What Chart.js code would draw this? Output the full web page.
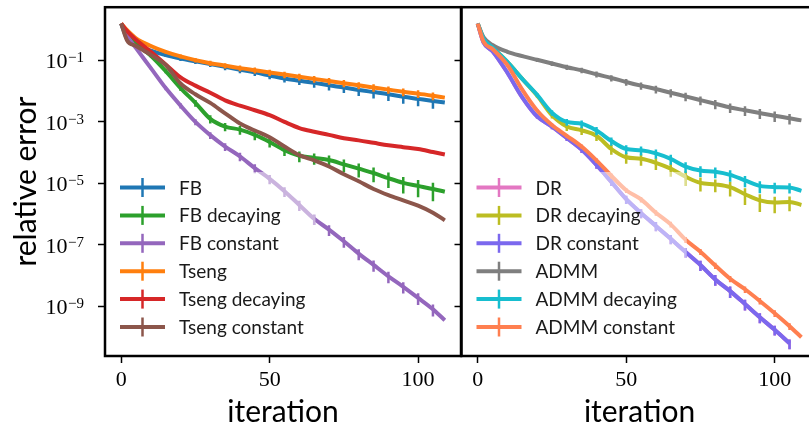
<!DOCTYPE html>
<html lang="en">
<head>
  <meta charset="UTF-8">
  <title>relative error vs iteration</title>
  <script src="https://cdn.jsdelivr.net/npm/chart.js"></script>
  <style>
    body { margin: 0; background: #fff; overflow: hidden; }
    #wrap { position: relative; width: 809px; height: 430px; overflow: hidden; }
    canvas { position: absolute; top: 0; }
  </style>
</head>
<body>
  <div id="wrap">
    <canvas id="left" width="464" height="430" style="left:0"></canvas>
    <canvas id="right" width="380" height="430" style="left:440px"></canvas>
  </div>

  <script>
    // iterations where the curves were read (log10 of relative error)
    const iters = [0, 2, 5, 10, 15, 20, 25, 30, 35, 40, 45, 50, 55, 60, 65, 70, 75, 80, 85, 90, 95, 100, 105, 109];
    // error bars every 5 iterations
    const barIters = [0, 5, 10, 15, 20, 25, 30, 35, 40, 45, 50, 55, 60, 65, 70, 75, 80, 85, 90, 95, 100, 105];
    const yTicks = [1e-9, 1e-7, 1e-5, 1e-3, 1e-1];
    const xTicks = [0, 50, 100];

    // left panel
    const fbLog         = [0.2, -0.3, -0.5, -0.68, -0.83, -0.94, -1.03, -1.12, -1.21, -1.3, -1.39, -1.49, -1.59, -1.66, -1.73, -1.81, -1.88, -1.96, -2.03, -2.1, -2.18, -2.25, -2.32, -2.37];
    const fbDecLog      = [0.2, -0.2, -0.45, -0.85, -1.35, -1.9, -2.38, -2.9, -3.15, -3.25, -3.42, -3.65, -3.92, -4.1, -4.17, -4.24, -4.38, -4.52, -4.66, -4.83, -4.98, -5.08, -5.18, -5.27];
    const fbConstLog    = [0.2, -0.2, -0.6, -1.25, -1.9, -2.47, -3.0, -3.43, -3.8, -4.12, -4.5, -4.85, -5.25, -5.7, -6.15, -6.5, -6.88, -7.28, -7.65, -8.02, -8.36, -8.72, -9.09, -9.45];
    const tsengLog      = [0.2, -0.02, -0.28, -0.53, -0.72, -0.87, -0.99, -1.09, -1.17, -1.25, -1.32, -1.39, -1.46, -1.53, -1.6, -1.67, -1.74, -1.81, -1.88, -1.95, -2.02, -2.08, -2.15, -2.21];
    const tsengDecLog   = [0.2, -0.05, -0.33, -0.72, -1.13, -1.55, -1.82, -2.05, -2.3, -2.47, -2.62, -2.78, -3.0, -3.2, -3.32, -3.42, -3.53, -3.6, -3.68, -3.76, -3.82, -3.88, -3.98, -4.06];
    const tsengConstLog = [0.2, -0.35, -0.53, -0.82, -1.15, -1.75, -2.1, -2.38, -2.72, -3.05, -3.28, -3.5, -3.8, -4.08, -4.25, -4.45, -4.7, -4.93, -5.18, -5.38, -5.55, -5.72, -5.95, -6.2];

    // right panel
    const drLog         = [0.2, -0.42, -0.7, -1.4, -2.2, -2.82, -3.15, -3.52, -3.9, -4.4, -4.95, -5.51, -5.96, -6.38, -6.8, -7.23, -7.65, -8.12, -8.5, -8.92, -9.35, -9.76, -10.2, null];
    const drDecLog      = [0.2, -0.3, -0.58, -1.05, -1.6, -2.14, -2.78, -3.15, -3.27, -3.45, -3.88, -4.15, -4.2, -4.33, -4.52, -4.78, -4.98, -5.03, -5.12, -5.35, -5.55, -5.62, -5.6, -5.7];
    const drConstLog    = [0.2, -0.42, -0.7, -1.4, -2.2, -2.82, -3.15, -3.52, -3.9, -4.4, -4.95, -5.51, -5.96, -6.38, -6.8, -7.23, -7.65, -8.12, -8.5, -8.92, -9.35, -9.76, -10.2, null];
    const admmLog       = [0.2, -0.25, -0.5, -0.72, -0.86, -0.98, -1.1, -1.22, -1.32, -1.45, -1.57, -1.7, -1.82, -1.93, -2.05, -2.17, -2.29, -2.41, -2.53, -2.62, -2.71, -2.8, -2.88, -2.95];
    const admmDecLog    = [0.2, -0.3, -0.58, -1.05, -1.6, -2.12, -2.7, -3.0, -3.06, -3.28, -3.62, -3.88, -3.92, -4.02, -4.2, -4.45, -4.58, -4.62, -4.72, -4.9, -5.08, -5.12, -5.13, -5.24];
    const admmConstLog  = [0.2, -0.4, -0.63, -1.15, -1.95, -2.63, -3.1, -3.45, -3.8, -4.25, -4.75, -5.22, -5.52, -5.95, -6.33, -6.83, -7.22, -7.67, -8.1, -8.44, -8.82, -9.22, -9.64, -10.0];

    // relative std at barIters
    const fbErr         = [0, 0.05, 0.1, 0.13, 0.16, 0.18, 0.2, 0.22, 0.23, 0.24, 0.25, 0.26, 0.28, 0.3, 0.32, 0.34, 0.36, 0.38, 0.4, 0.41, 0.42, 0.44];
    const fbDecErr      = [0, 0.05, 0.1, 0.15, 0.2, 0.25, 0.3, 0.3, 0.32, 0.33, 0.34, 0.35, 0.38, 0.4, 0.42, 0.45, 0.48, 0.5, 0.52, 0.55, 0.57, 0.6];
    const fbConstErr    = [0, 0.05, 0.1, 0.15, 0.2, 0.22, 0.25, 0.28, 0.3, 0.32, 0.33, 0.35, 0.36, 0.37, 0.38, 0.38, 0.39, 0.4, 0.4, 0.4, 0.41, 0.42];
    const tsengErr      = [0, 0.05, 0.1, 0.12, 0.15, 0.17, 0.19, 0.2, 0.21, 0.22, 0.23, 0.24, 0.24, 0.25, 0.25, 0.26, 0.26, 0.27, 0.27, 0.28, 0.28, 0.29];
    const tsengDecErr   = [0, 0.05, 0.05, 0.05, 0.05, 0.05, 0.05, 0.05, 0.05, 0.05, 0.05, 0.05, 0.05, 0.05, 0.05, 0.05, 0.05, 0.05, 0.05, 0.05, 0.05, 0.05];
    const tsengConstErr = [0, 0.05, 0.05, 0.05, 0.05, 0.05, 0.05, 0.05, 0.05, 0.05, 0.05, 0.05, 0.05, 0.05, 0.05, 0.05, 0.05, 0.05, 0.05, 0.05, 0.05, 0.05];
    const drErr         = [0, 0.05, 0.1, 0.12, 0.15, 0.18, 0.2, 0.22, 0.25, 0.27, 0.3, 0.32, 0.33, 0.34, 0.35, 0.36, 0.38, 0.4, 0.38, 0.36, 0.35, 0.35];
    const drDecErr      = [0, 0.05, 0.1, 0.12, 0.15, 0.22, 0.28, 0.3, 0.32, 0.35, 0.38, 0.4, 0.42, 0.45, 0.5, 0.48, 0.45, 0.5, 0.55, 0.58, 0.55, 0.5];
    const drConstErr    = [0, 0.05, 0.1, 0.12, 0.15, 0.18, 0.2, 0.22, 0.25, 0.27, 0.3, 0.32, 0.33, 0.34, 0.35, 0.36, 0.38, 0.4, 0.38, 0.36, 0.35, 0.35];
    const admmErr       = [0, 0.05, 0.1, 0.12, 0.15, 0.17, 0.19, 0.2, 0.22, 0.23, 0.25, 0.27, 0.28, 0.3, 0.31, 0.32, 0.33, 0.34, 0.35, 0.36, 0.37, 0.38];
    const admmDecErr    = [0, 0.05, 0.1, 0.12, 0.15, 0.2, 0.25, 0.28, 0.3, 0.3, 0.32, 0.33, 0.34, 0.36, 0.38, 0.38, 0.38, 0.4, 0.4, 0.42, 0.38, 0.36];
    const admmConstErr  = [0, 0.05, 0.08, 0.1, 0.12, 0.14, 0.15, 0.16, 0.17, 0.18, 0.19, 0.2, 0.2, 0.21, 0.22, 0.22, 0.23, 0.23, 0.24, 0.24, 0.25, 0.25];

    const SANS = 'Lato';
    const SERIF = '"Liberation Serif"';

    function series(label, color, logs, errs, i, n) {
      return {
        label: label,
        data: iters.map((it, k) => ({ x: it, y: logs[k] == null ? null : Math.pow(10, logs[k]) })),
        errs: errs,
        borderColor: color,
        backgroundColor: color,
        borderWidth: 4,
        pointRadius: 0,
        cubicInterpolationMode: 'monotone',
        fill: false,
        order: n - i   // later series on top, like matplotlib
      };
    }

    // vertical error bars, drawn right after their own line
    const errorBars = {
      id: 'errorBars',
      afterDatasetDraw(chart, args) {
        const ds = chart.data.datasets[args.index];
        if (!ds.errs) return;
        const { ctx, chartArea: a } = chart;
        const x = chart.scales.x, y = chart.scales.y;
        ctx.save();
        ctx.beginPath();
        ctx.rect(a.left, a.top, a.right - a.left, a.bottom - a.top);
        ctx.clip();
        ctx.strokeStyle = ds.borderColor;
        ctx.lineWidth = 2.5;
        barIters.forEach((it, k) => {
          const pt = ds.data[iters.indexOf(it)];
          const r = ds.errs[k];
          if (!pt || pt.y == null || !r) return;
          const px = x.getPixelForValue(it);
          const top = y.getPixelForValue(pt.y * (1 + r));
          const bot = y.getPixelForValue(Math.max(pt.y * (1 - r), y.min));
          ctx.beginPath();
          ctx.moveTo(px, top);
          ctx.lineTo(px, bot);
          ctx.stroke();
        });
        ctx.restore();
      }
    };

    // matplotlib-like legend in the lower left, semi transparent frame
    const boxLegend = {
      id: 'boxLegend',
      afterDatasetsDraw(chart) {
        const { ctx, chartArea: a } = chart;
        const sets = chart.data.datasets;
        ctx.save();
        ctx.font = '19px ' + SANS;
        let tw = 0;
        sets.forEach(d => { tw = Math.max(tw, ctx.measureText(d.label).width); });
        const bx = a.left + 5, by = 172, bw = 69 + tw + 10, bh = 171;
        ctx.fillStyle = 'rgba(255,255,255,0.5)';
        ctx.beginPath();
        ctx.roundRect(bx, by, bw, bh, 5);
        ctx.fill();
        sets.forEach((d, k) => {
          const cy = 187.5 + k * 27.9;
          ctx.strokeStyle = d.borderColor;
          ctx.lineWidth = 4;
          ctx.beginPath();
          ctx.moveTo(a.left + 15, cy);
          ctx.lineTo(a.left + 60, cy);
          ctx.stroke();
          ctx.lineWidth = 2.5;
          ctx.beginPath();
          ctx.moveTo(a.left + 37.5, cy - 9.5);
          ctx.lineTo(a.left + 37.5, cy + 9.5);
          ctx.stroke();
          ctx.fillStyle = '#1a1a1a';
          ctx.textBaseline = 'alphabetic';
          ctx.fillText(d.label, a.left + 74, cy + 7);
        });
        ctx.restore();
      }
    };

    // axes frame
    const frame = {
      id: 'frame',
      afterDraw(chart) {
        const { ctx, chartArea: a } = chart;
        ctx.save();
        ctx.strokeStyle = '#000';
        ctx.lineWidth = 2.5;
        ctx.strokeRect(a.left, a.top, a.right - a.left, a.bottom - a.top);
        ctx.restore();
      }
    };

    // 10^k labels on the left axis
    const powerLabels = {
      id: 'powerLabels',
      afterDraw(chart) {
        const { ctx } = chart;
        const y = chart.scales.y;
        ctx.save();
        ctx.fillStyle = '#000';
        ctx.textAlign = 'right';
        ctx.textBaseline = 'alphabetic';
        yTicks.forEach(v => {
          const py = y.getPixelForValue(v);
          const ex = '\u2212' + Math.abs(Math.round(Math.log10(v)));
          ctx.font = '15px ' + SERIF;
          const ew = ctx.measureText(ex).width;
          ctx.fillText(ex, 84, py + 2);
          ctx.font = '22px ' + SERIF;
          ctx.fillText('10', 84 - ew - 0.5, py + 8);
        });
        ctx.restore();
      }
    };

    function makeOptions(isLeft, padRight) {
      return {
        responsive: false,
        animation: false,
        devicePixelRatio: 1,
        layout: { padding: { top: 1.5, right: padRight, left: 0, bottom: 0 } },
        plugins: { legend: { display: false }, tooltip: { enabled: false } },
        scales: {
          x: {
            type: 'linear',
            min: -5.45,
            max: 114.45,
            afterBuildTicks: s => { s.ticks = xTicks.map(v => ({ value: v })); },
            afterFit: s => { s.height = 74; },
            grid: { drawOnChartArea: false, drawTicks: true, tickLength: 7, tickWidth: 1.5, tickColor: '#000' },
            border: { display: false },
            ticks: { color: '#000', font: { family: 'Liberation Serif', size: 22 }, padding: 4, maxRotation: 0 },
            title: { display: true, text: 'iteration', color: '#000', font: { family: SANS, size: 30 }, padding: { top: 0, bottom: 0 } }
          },
          y: {
            type: 'logarithmic',
            min: Math.pow(10, -10.61),
            max: Math.pow(10, 0.73),
            afterBuildTicks: s => { s.ticks = yTicks.map(v => ({ value: v })); },
            afterFit: s => { s.width = isLeft ? 105 : 21.5; },
            grid: { drawOnChartArea: false, drawTicks: true, tickLength: 7, tickWidth: 1.5, tickColor: '#000' },
            border: { display: false },
            ticks: { callback: () => '', padding: 0 },
            title: { display: isLeft, text: 'relative error', color: '#000', font: { family: SANS, size: 30 }, padding: { top: 8, bottom: 0 } }
          }
        }
      };
    }

    const leftSets = [
      ['FB', '#1f77b4', fbLog, fbErr],
      ['FB decaying', '#2ca02c', fbDecLog, fbDecErr],
      ['FB constant', '#9467bd', fbConstLog, fbConstErr],
      ['Tseng', '#ff7f0e', tsengLog, tsengErr],
      ['Tseng decaying', '#d62728', tsengDecLog, tsengDecErr],
      ['Tseng constant', '#8c564b', tsengConstLog, tsengConstErr]
    ];
    const rightSets = [
      ['DR', '#e377c2', drLog, drErr],
      ['DR decaying', '#bcbd22', drDecLog, drDecErr],
      ['DR constant', '#7b68ee', drConstLog, drConstErr],
      ['ADMM', '#7f7f7f', admmLog, admmErr],
      ['ADMM decaying', '#17becf', admmDecLog, admmDecErr],
      ['ADMM constant', '#ff7f50', admmConstLog, admmConstErr]
    ];

    new Chart(document.getElementById('left'), {
      type: 'line',
      data: { datasets: leftSets.map((s, i) => series(s[0], s[1], s[2], s[3], i, leftSets.length)) },
      options: makeOptions(true, 3),
      plugins: [errorBars, boxLegend, frame, powerLabels]
    });

    new Chart(document.getElementById('right'), {
      type: 'line',
      data: { datasets: rightSets.map((s, i) => series(s[0], s[1], s[2], s[3], i, rightSets.length)) },
      options: makeOptions(false, 2.4),
      plugins: [errorBars, boxLegend, frame]
    });
  </script>
</body>
</html>
